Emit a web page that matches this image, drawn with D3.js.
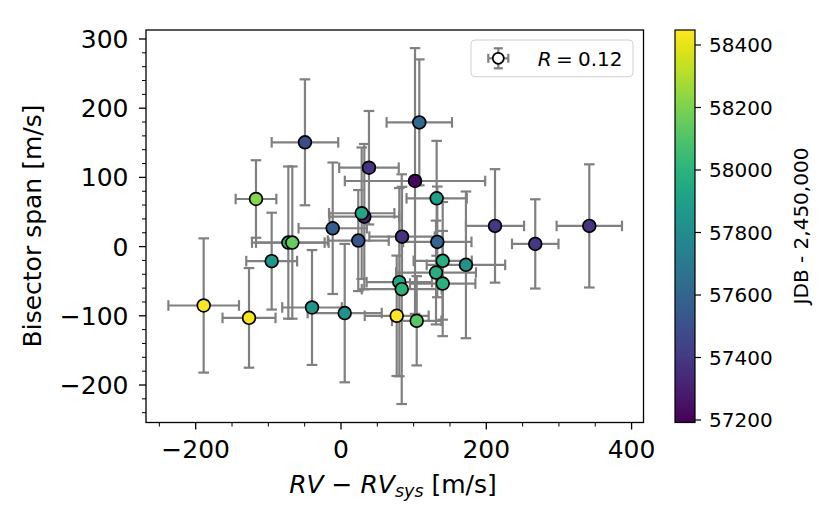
<!DOCTYPE html>
<html><head><meta charset="utf-8">
<script src="https://cdn.jsdelivr.net/npm/d3@7"></script>
<style>body{margin:0;background:#fff} text{font-family:"DejaVu Sans",sans-serif;fill:#000}</style>
</head><body><svg id="c" width="825" height="525"></svg>
<script>
// RV - RV_sys [m/s]
const rv     = [-49.6, 38.5, 107.8, 101.9, -117, 131.7, 28.5, 32.1, -11.4, 212, 341.8, -72.5, -67, 23.8, 84, 132.6, 267.4, -95.4, 140, 130.8, 140, 172, 80.3, 83.6, -189, -39.9, -126.6, 5.1, 76.7, 104.2];
// Bisector span [m/s]
const bis    = [150.7, 114, 179.5, 94.8, 68.8, 69.8, 48.2, 43.3, 26.5, 29.9, 29.9, 5.8, 5.8, 8.7, 14.4, 6.8, 3.9, -21, -20.6, -37.5, -53.4, -26.4, -51.4, -61.5, -85.1, -88, -103, -96.1, -100, -107.2];
const rvErr  = [45.8, 41, 45, 96.6, 28, 41.5, 45, 48, 47, 40, 45, 50, 50, 42, 45, 47, 32, 35, 40, 55, 45, 54, 45, 55, 48.6, 41, 36.5, 51, 44, 34];
const bisErr = [91, 82, 91, 192, 56, 83, 95, 105, 95, 82, 89, 110, 110, 73, 72, 80, 64.5, 70, 85, 75, 76, 106, 136, 166, 97, 83, 72, 100, 87, 64.5];
// JDB - 2,450,000
const jdb    = [57480, 57380, 57620, 57220, 58220, 57900, 57930, 57300, 57560, 57390, 57380, 57950, 58150, 57520, 57370, 57600, 57400, 57860, 57980, 57970, 57990, 57830, 57950, 58000, 58440, 57850, 58430, 57840, 58440, 58120];

const xTicks = [-200, 0, 200, 400];
const yTicks = [-200, -100, 0, 100, 200, 300];
const cbTicks = [57200, 57400, 57600, 57800, 58000, 58200, 58400];
const legendLabel = "0.12";

const svg = d3.select("#c");
const L = 146, R = 643.5, T = 30, B = 422.5;
const x = d3.scaleLinear().domain([-268.4, 416.4]).range([L, R]);
const y = d3.scaleLinear().domain([-254.2, 313]).range([B, T]);
const cmin = 57192, cmax = 58448;
const cnorm = d3.scaleLinear().domain([cmin, cmax]).range([0, 1]).clamp(true);
const col = v => d3.interpolateViridis(cnorm(v));

const data = rv.map((d, i) => ({x: d, y: bis[i], xe: rvErr[i], ye: bisErr[i], t: jdb[i]}))
  .sort((a, b) => a.t - b.t);

const g = svg.append("g");
const ecol = "#808080", cap = 5.3, ew = 2.2;
// error bars
data.forEach(d => {
  const cx = x(d.x), cy = y(d.y);
  const x0 = x(d.x - d.xe), x1 = x(d.x + d.xe), y0 = y(d.y - d.ye), y1 = y(d.y + d.ye);
  const segs = [[x0, cy, x1, cy], [cx, y0, cx, y1],
    [x0, cy - cap, x0, cy + cap], [x1, cy - cap, x1, cy + cap],
    [cx - cap, y0, cx + cap, y0], [cx - cap, y1, cx + cap, y1]];
  segs.forEach(s => g.append("line").attr("x1", s[0]).attr("y1", s[1]).attr("x2", s[2]).attr("y2", s[3])
    .attr("stroke", ecol).attr("stroke-width", ew));
});
// markers
g.selectAll("circle.pt").data(data).join("circle").attr("class", "pt")
  .attr("cx", d => x(d.x)).attr("cy", d => y(d.y)).attr("r", 6.4)
  .attr("fill", d => col(d.t)).attr("stroke", "#000").attr("stroke-width", 1.7);

// frame
svg.append("rect").attr("x", L).attr("y", T).attr("width", R - L).attr("height", B - T)
  .attr("fill", "none").attr("stroke", "#000").attr("stroke-width", 1.3);

// x axis ticks
const xMinor = d3.range(-250, 401, 50).filter(v => !xTicks.includes(v));
xMinor.forEach(v => svg.append("line").attr("x1", x(v)).attr("x2", x(v)).attr("y1", B).attr("y2", B + 4).attr("stroke", "#000").attr("stroke-width", 1));
xTicks.forEach(v => {
  svg.append("line").attr("x1", x(v)).attr("x2", x(v)).attr("y1", B).attr("y2", B + 7).attr("stroke", "#000").attr("stroke-width", 1.3);
  svg.append("text").attr("x", x(v)).attr("y", 458).attr("text-anchor", "middle").attr("font-size", 25)
    .text(d3.format("")(v).replace("-", "\u2212"));
});
// y axis ticks
const yMinor = d3.range(-240, 301, 20).filter(v => !yTicks.includes(v));
yMinor.forEach(v => svg.append("line").attr("x1", L).attr("x2", L - 4).attr("y1", y(v)).attr("y2", y(v)).attr("stroke", "#000").attr("stroke-width", 1));
yTicks.forEach(v => {
  svg.append("line").attr("x1", L).attr("x2", L - 7).attr("y1", y(v)).attr("y2", y(v)).attr("stroke", "#000").attr("stroke-width", 1.3);
  svg.append("text").attr("x", 128.5).attr("y", y(v) + 9.1).attr("text-anchor", "end").attr("font-size", 25)
    .text(d3.format("")(v).replace("-", "\u2212"));
});

// axis labels
svg.append("text").attr("transform", "translate(41,226) rotate(-90)").attr("text-anchor", "middle")
  .attr("font-size", 25).text("Bisector span [m/s]");
const xl = svg.append("text").attr("x", 393).attr("y", 493).attr("text-anchor", "middle").attr("font-size", 25);
xl.append("tspan").attr("font-style", "italic").text("RV");
xl.append("tspan").text(" \u2212 ");
xl.append("tspan").attr("font-style", "italic").text("RV");
xl.append("tspan").attr("font-style", "italic").attr("font-size", 17.5).attr("dy", 4).text("sys");
xl.append("tspan").attr("dy", -4).text(" [m/s]");

// legend
const lg = svg.append("g");
lg.append("rect").attr("x", 471).attr("y", 40).attr("width", 162).attr("height", 36.7).attr("rx", 4)
  .attr("fill", "#fff").attr("fill-opacity", 0.8).attr("stroke", "#d0d0d0").attr("stroke-width", 1);
const lx = 498.3, ly = 58.3;
[[lx - 10, ly, lx + 10, ly], [lx, ly - 10, lx, ly + 10], [lx - 10, ly - 4.5, lx - 10, ly + 4.5], [lx + 10, ly - 4.5, lx + 10, ly + 4.5],
 [lx - 4.5, ly - 10, lx + 4.5, ly - 10], [lx - 4.5, ly + 10, lx + 4.5, ly + 10]].forEach(s =>
  lg.append("line").attr("x1", s[0]).attr("y1", s[1]).attr("x2", s[2]).attr("y2", s[3]).attr("stroke", ecol).attr("stroke-width", ew));
lg.append("circle").attr("cx", lx).attr("cy", ly).attr("r", 5.5).attr("fill", "#fff").attr("stroke", "#000").attr("stroke-width", 1.7);
lg.append("text").attr("x", 537.7).attr("y", 65.5).attr("font-size", 20).attr("font-style", "italic").text("R");
lg.append("text").attr("x", 556).attr("y", 65.5).attr("font-size", 20).text("=");
lg.append("text").attr("x", 578).attr("y", 65.5).attr("font-size", 20).text(legendLabel);

// colorbar
const cbx = 675, cbw = 20;
const grad = svg.append("defs").append("linearGradient").attr("id", "vir").attr("x1", 0).attr("y1", 1).attr("x2", 0).attr("y2", 0);
d3.range(0, 1.0001, 0.02).forEach(t => grad.append("stop").attr("offset", t).attr("stop-color", d3.interpolateViridis(t)));
svg.append("rect").attr("x", cbx).attr("y", T).attr("width", cbw).attr("height", B - T).attr("fill", "url(#vir)")
  .attr("stroke", "#000").attr("stroke-width", 1.2);
const cy = d3.scaleLinear().domain([cmin, cmax]).range([B, T]);
cbTicks.forEach(v => {
  svg.append("line").attr("x1", cbx + cbw).attr("x2", cbx + cbw + 6).attr("y1", cy(v)).attr("y2", cy(v)).attr("stroke", "#000").attr("stroke-width", 1.2);
  svg.append("text").attr("x", 709).attr("y", cy(v) + 7.3).attr("font-size", 20).text(v);
});
svg.append("text").attr("transform", "translate(807.5,226) rotate(-90)").attr("text-anchor", "middle")
  .attr("font-size", 20).text("JDB - 2,450,000");
</script></body></html>
